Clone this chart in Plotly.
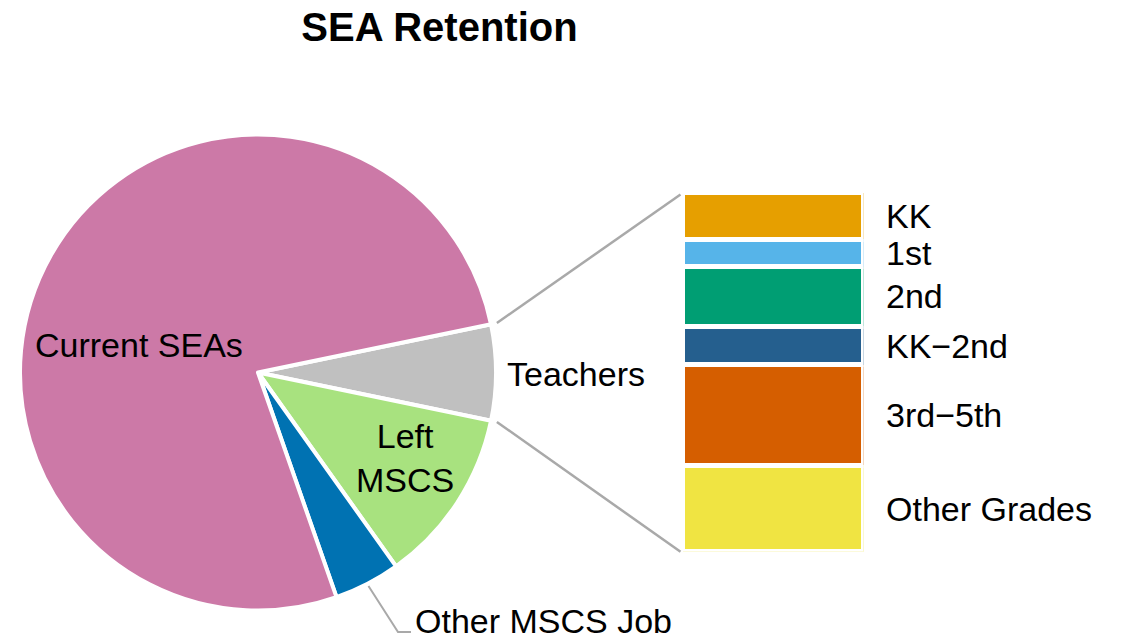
import math
import plotly.graph_objects as go

title_text = "SEA Retention"

pie_labels = ["Teachers", "Left MSCS", "Other MSCS Job", "Current SEAs"]
pie_values = [6.5, 11.9, 4.5, 77.1]
pie_colors = ["#C0C0C0", "#A8E27F", "#0072B2", "#CC79A7"]

bar_labels = ["KK", "1st", "2nd", "KK\u22122nd", "3rd\u22125th", "Other Grades"]
bar_values = [13.0, 7.6, 16.6, 10.8, 27.9, 24.1]
bar_colors = ["#E69F00", "#56B4E9", "#009E73", "#255F8E", "#D55E00", "#F0E442"]

FONT = "Liberation Sans, Arial, sans-serif"
LINE_COLOR = "#A9A9A9"

# page body has an 8px margin: figure sized to fit the 1122x639 window
OX, OY = 8, 8
W, H = 1122 - OX, 639 - OY

# ---- geometry (window pixels) ----
pie_cx, pie_cy, pie_r = 258, 372.5, 238
bar_px0, bar_px1, bar_py0, bar_py1 = 682.5, 863.5, 192.5, 551.8


def px(x):
    return (x - OX) / W


def py(y):
    return 1 - (y - OY) / H


pie_domain_x = [px(pie_cx - pie_r), px(pie_cx + pie_r)]
pie_domain_y = [py(pie_cy + pie_r), py(pie_cy - pie_r)]

total_pie = sum(pie_values)
teach_deg = 360 * pie_values[0] / total_pie
start_deg = teach_deg / 2  # math angle of first slice start
rotation = 90 - start_deg

fig = go.Figure()

fig.add_trace(go.Pie(
    labels=pie_labels,
    values=pie_values,
    sort=False,
    direction="clockwise",
    rotation=rotation,
    marker=dict(colors=pie_colors, line=dict(color="white", width=4)),
    textinfo="none",
    hoverinfo="label+percent",
    domain=dict(x=pie_domain_x, y=pie_domain_y),
    showlegend=False,
))

total_bar = sum(bar_values)
for lab, val, col in reversed(list(zip(bar_labels, bar_values, bar_colors))):
    fig.add_trace(go.Bar(
        x=[0], y=[val], width=1, name=lab,
        marker=dict(color=col, line=dict(color="white", width=5)),
        showlegend=False, hoverinfo="name+y",
        xaxis="x", yaxis="y",
    ))

annotations = []
cum = total_bar
for lab, val in zip(bar_labels, bar_values):
    mid = cum - val / 2
    cum -= val
    annotations.append(dict(
        x=px(884), xref="paper", y=mid, yref="y",
        text=lab, showarrow=False, xanchor="left", yanchor="middle",
        font=dict(family=FONT, size=34, color="#000000"),
    ))


def pie_point(deg, rr):
    a = math.radians(deg)
    return pie_cx + rr * math.cos(a), pie_cy - rr * math.sin(a)


top_pt = pie_point(start_deg, pie_r * 1.025)
bot_pt = pie_point(start_deg - teach_deg, pie_r * 1.025)
shapes = [
    dict(type="line", xref="paper", yref="paper",
         x0=px(top_pt[0]), y0=py(top_pt[1]), x1=px(bar_px0 - 2), y1=py(bar_py0 + 2),
         line=dict(color=LINE_COLOR, width=2.5)),
    dict(type="line", xref="paper", yref="paper",
         x0=px(bot_pt[0]), y0=py(bot_pt[1]), x1=px(bar_px0 - 2), y1=py(bar_py1),
         line=dict(color=LINE_COLOR, width=2.5)),
]

cum_before = sum(pie_values[:2])
other_mid = start_deg - 360 * (cum_before + pie_values[2] / 2) / total_pie
lp = pie_point(other_mid, pie_r * 1.01)
elbow = (398, 632)
end = (411, 632)
shapes.append(dict(
    type="path", xref="paper", yref="paper",
    path=f"M {px(lp[0])},{py(lp[1])} L {px(elbow[0])},{py(elbow[1])} L {px(end[0])},{py(end[1])}",
    line=dict(color=LINE_COLOR, width=2),
))

label_font = dict(family=FONT, size=34, color="#000000")
annotations += [
    dict(x=px(33), y=py(345), xref="paper", yref="paper", text="Current SEAs",
         showarrow=False, xanchor="left", yanchor="middle", font=label_font),
    dict(x=px(405), y=py(458), xref="paper", yref="paper", text="Left<br>MSCS",
         showarrow=False, xanchor="center", yanchor="middle", font=label_font, align="center"),
    dict(x=px(505), y=py(374), xref="paper", yref="paper", text="Teachers",
         showarrow=False, xanchor="left", yanchor="middle", font=label_font),
    dict(x=px(413), y=py(621), xref="paper", yref="paper", text="Other MSCS Job",
         showarrow=False, xanchor="left", yanchor="middle", font=label_font),
]

fig.update_layout(
    width=W, height=H,
    margin=dict(l=0, r=0, t=0, b=0),
    paper_bgcolor="white", plot_bgcolor="white",
    barmode="stack",
    title=dict(text=f"<b>{title_text}</b>", x=px(439.5), xanchor="center",
               y=py(27), yanchor="middle", xref="paper", yref="container",
               font=dict(family=FONT, size=40, color="#000000")),
    xaxis=dict(domain=[px(bar_px0), px(bar_px1)], range=[-0.5, 0.5],
               visible=False, fixedrange=True),
    yaxis=dict(domain=[py(bar_py1), py(bar_py0)], range=[0, total_bar],
               visible=False, fixedrange=True),
    shapes=shapes,
    annotations=annotations,
    showlegend=False,
)

fig.write_html("out.html")
